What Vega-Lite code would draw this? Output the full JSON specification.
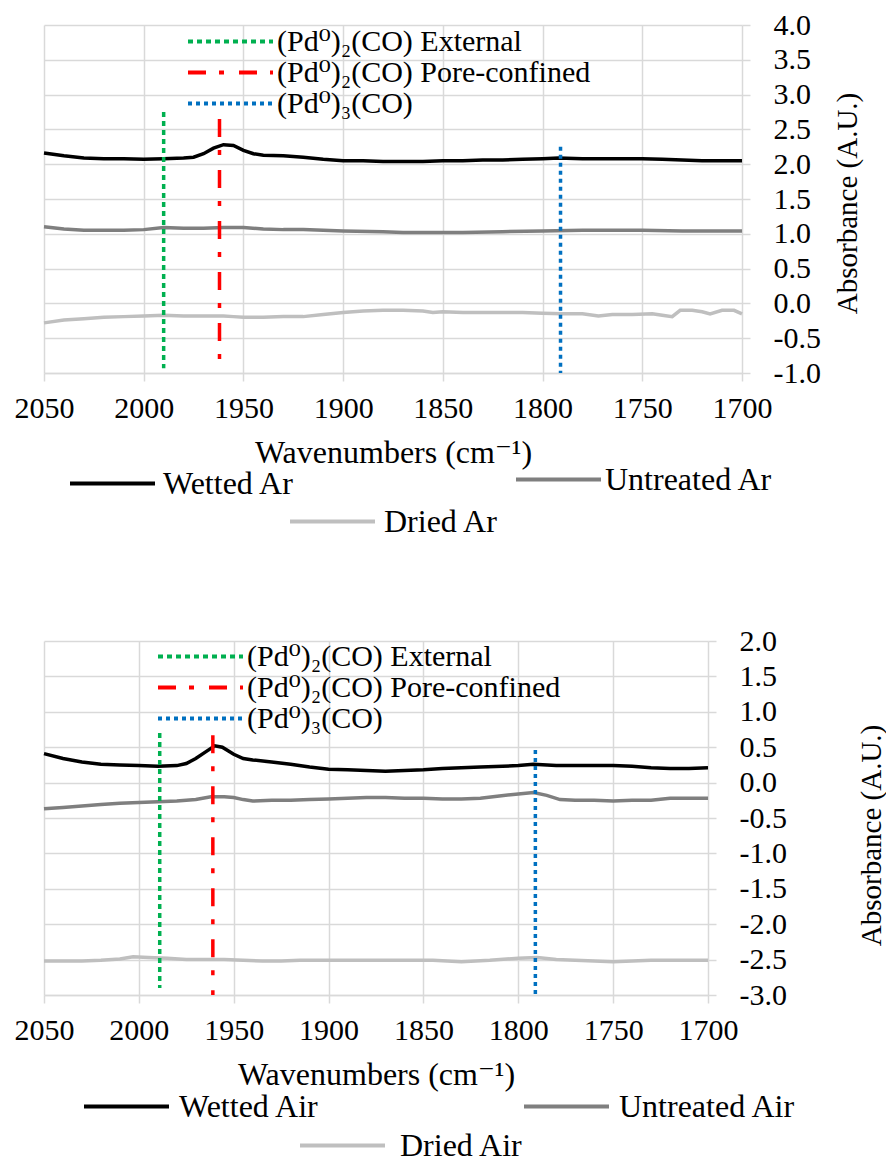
{
  "$schema": "https://vega.github.io/schema/vega-lite/v6.json",
  "background": "white",
  "padding": {"left": 14, "top": 10, "right": 5, "bottom": 0},
  "spacing": 88,
  "config": {
    "font": "Liberation Serif, Times New Roman, DejaVu Serif, serif",
    "view": {"stroke": null},
    "axis": {
      "gridColor": "#d9d9d9", "gridWidth": 1.5,
      "domainColor": "#d9d9d9", "domainWidth": 1.5,
      "tickColor": "#d9d9d9", "tickWidth": 1.5, "tickSize": 8,
      "labelFont": "Liberation Serif, Times New Roman, DejaVu Serif, serif", "labelFontSize": 30, "labelColor": "#000000", "labelFlush": false,
      "titleFont": "Liberation Serif, Times New Roman, DejaVu Serif, serif", "titleFontSize": 32, "titleFontWeight": "normal", "titleColor": "#000000"
    },
    "legend": {
      "labelFont": "Liberation Serif, Times New Roman, DejaVu Serif, serif", "labelFontSize": 32, "labelColor": "#000000", "labelLimit": 0,
      "symbolType": "stroke", "symbolSize": 7225, "symbolStrokeWidth": 4,
      "labelOffset": 4, "rowPadding": 0, "clipHeight": 29, "title": null
    }
  },
  "datasets": {
    "ar": [
      {"series": "Wetted Ar", "wn": 2050, "abs": 2.16}, {"series": "Wetted Ar", "wn": 2040, "abs": 2.12}, {"series": "Wetted Ar", "wn": 2030, "abs": 2.09}, {"series": "Wetted Ar", "wn": 2020, "abs": 2.08}, {"series": "Wetted Ar", "wn": 2010, "abs": 2.08}, {"series": "Wetted Ar", "wn": 2000, "abs": 2.07}, {"series": "Wetted Ar", "wn": 1990, "abs": 2.08}, {"series": "Wetted Ar", "wn": 1980, "abs": 2.09}, {"series": "Wetted Ar", "wn": 1975, "abs": 2.1}, {"series": "Wetted Ar", "wn": 1970, "abs": 2.15}, {"series": "Wetted Ar", "wn": 1965, "abs": 2.23}, {"series": "Wetted Ar", "wn": 1960, "abs": 2.28}, {"series": "Wetted Ar", "wn": 1955, "abs": 2.27}, {"series": "Wetted Ar", "wn": 1950, "abs": 2.2}, {"series": "Wetted Ar", "wn": 1945, "abs": 2.15}, {"series": "Wetted Ar", "wn": 1940, "abs": 2.13}, {"series": "Wetted Ar", "wn": 1930, "abs": 2.12}, {"series": "Wetted Ar", "wn": 1920, "abs": 2.1}, {"series": "Wetted Ar", "wn": 1910, "abs": 2.07}, {"series": "Wetted Ar", "wn": 1900, "abs": 2.05}, {"series": "Wetted Ar", "wn": 1890, "abs": 2.05}, {"series": "Wetted Ar", "wn": 1880, "abs": 2.04}, {"series": "Wetted Ar", "wn": 1870, "abs": 2.04}, {"series": "Wetted Ar", "wn": 1860, "abs": 2.04}, {"series": "Wetted Ar", "wn": 1850, "abs": 2.05}, {"series": "Wetted Ar", "wn": 1840, "abs": 2.05}, {"series": "Wetted Ar", "wn": 1830, "abs": 2.06}, {"series": "Wetted Ar", "wn": 1820, "abs": 2.06}, {"series": "Wetted Ar", "wn": 1810, "abs": 2.07}, {"series": "Wetted Ar", "wn": 1800, "abs": 2.08}, {"series": "Wetted Ar", "wn": 1792, "abs": 2.09}, {"series": "Wetted Ar", "wn": 1780, "abs": 2.08}, {"series": "Wetted Ar", "wn": 1770, "abs": 2.08}, {"series": "Wetted Ar", "wn": 1760, "abs": 2.08}, {"series": "Wetted Ar", "wn": 1750, "abs": 2.08}, {"series": "Wetted Ar", "wn": 1740, "abs": 2.07}, {"series": "Wetted Ar", "wn": 1730, "abs": 2.06}, {"series": "Wetted Ar", "wn": 1720, "abs": 2.05}, {"series": "Wetted Ar", "wn": 1710, "abs": 2.05}, {"series": "Wetted Ar", "wn": 1700, "abs": 2.05},
      {"series": "Untreated Ar", "wn": 2050, "abs": 1.1}, {"series": "Untreated Ar", "wn": 2040, "abs": 1.07}, {"series": "Untreated Ar", "wn": 2030, "abs": 1.05}, {"series": "Untreated Ar", "wn": 2020, "abs": 1.05}, {"series": "Untreated Ar", "wn": 2010, "abs": 1.05}, {"series": "Untreated Ar", "wn": 2000, "abs": 1.06}, {"series": "Untreated Ar", "wn": 1990, "abs": 1.09}, {"series": "Untreated Ar", "wn": 1980, "abs": 1.08}, {"series": "Untreated Ar", "wn": 1970, "abs": 1.08}, {"series": "Untreated Ar", "wn": 1960, "abs": 1.09}, {"series": "Untreated Ar", "wn": 1950, "abs": 1.09}, {"series": "Untreated Ar", "wn": 1940, "abs": 1.07}, {"series": "Untreated Ar", "wn": 1930, "abs": 1.06}, {"series": "Untreated Ar", "wn": 1920, "abs": 1.06}, {"series": "Untreated Ar", "wn": 1910, "abs": 1.05}, {"series": "Untreated Ar", "wn": 1900, "abs": 1.04}, {"series": "Untreated Ar", "wn": 1880, "abs": 1.03}, {"series": "Untreated Ar", "wn": 1870, "abs": 1.02}, {"series": "Untreated Ar", "wn": 1860, "abs": 1.02}, {"series": "Untreated Ar", "wn": 1850, "abs": 1.02}, {"series": "Untreated Ar", "wn": 1840, "abs": 1.02}, {"series": "Untreated Ar", "wn": 1820, "abs": 1.03}, {"series": "Untreated Ar", "wn": 1800, "abs": 1.04}, {"series": "Untreated Ar", "wn": 1780, "abs": 1.05}, {"series": "Untreated Ar", "wn": 1760, "abs": 1.05}, {"series": "Untreated Ar", "wn": 1750, "abs": 1.05}, {"series": "Untreated Ar", "wn": 1730, "abs": 1.04}, {"series": "Untreated Ar", "wn": 1710, "abs": 1.04}, {"series": "Untreated Ar", "wn": 1700, "abs": 1.04},
      {"series": "Dried Ar", "wn": 2050, "abs": -0.28}, {"series": "Dried Ar", "wn": 2040, "abs": -0.24}, {"series": "Dried Ar", "wn": 2030, "abs": -0.22}, {"series": "Dried Ar", "wn": 2020, "abs": -0.2}, {"series": "Dried Ar", "wn": 2010, "abs": -0.19}, {"series": "Dried Ar", "wn": 2000, "abs": -0.18}, {"series": "Dried Ar", "wn": 1990, "abs": -0.17}, {"series": "Dried Ar", "wn": 1980, "abs": -0.18}, {"series": "Dried Ar", "wn": 1970, "abs": -0.18}, {"series": "Dried Ar", "wn": 1960, "abs": -0.18}, {"series": "Dried Ar", "wn": 1955, "abs": -0.19}, {"series": "Dried Ar", "wn": 1950, "abs": -0.2}, {"series": "Dried Ar", "wn": 1940, "abs": -0.2}, {"series": "Dried Ar", "wn": 1930, "abs": -0.19}, {"series": "Dried Ar", "wn": 1920, "abs": -0.19}, {"series": "Dried Ar", "wn": 1910, "abs": -0.16}, {"series": "Dried Ar", "wn": 1900, "abs": -0.13}, {"series": "Dried Ar", "wn": 1890, "abs": -0.11}, {"series": "Dried Ar", "wn": 1880, "abs": -0.1}, {"series": "Dried Ar", "wn": 1870, "abs": -0.1}, {"series": "Dried Ar", "wn": 1860, "abs": -0.11}, {"series": "Dried Ar", "wn": 1855, "abs": -0.13}, {"series": "Dried Ar", "wn": 1850, "abs": -0.12}, {"series": "Dried Ar", "wn": 1840, "abs": -0.13}, {"series": "Dried Ar", "wn": 1830, "abs": -0.13}, {"series": "Dried Ar", "wn": 1820, "abs": -0.13}, {"series": "Dried Ar", "wn": 1810, "abs": -0.13}, {"series": "Dried Ar", "wn": 1800, "abs": -0.14}, {"series": "Dried Ar", "wn": 1790, "abs": -0.15}, {"series": "Dried Ar", "wn": 1780, "abs": -0.15}, {"series": "Dried Ar", "wn": 1772, "abs": -0.18}, {"series": "Dried Ar", "wn": 1765, "abs": -0.16}, {"series": "Dried Ar", "wn": 1755, "abs": -0.16}, {"series": "Dried Ar", "wn": 1745, "abs": -0.15}, {"series": "Dried Ar", "wn": 1740, "abs": -0.17}, {"series": "Dried Ar", "wn": 1735, "abs": -0.19}, {"series": "Dried Ar", "wn": 1731, "abs": -0.1}, {"series": "Dried Ar", "wn": 1725, "abs": -0.1}, {"series": "Dried Ar", "wn": 1720, "abs": -0.12}, {"series": "Dried Ar", "wn": 1716, "abs": -0.15}, {"series": "Dried Ar", "wn": 1710, "abs": -0.1}, {"series": "Dried Ar", "wn": 1704, "abs": -0.1}, {"series": "Dried Ar", "wn": 1700, "abs": -0.15}
    ],
    "arRef": [
      {"ref": "(Pd⁰)₂(CO) External", "wn": 1990, "top": 2.75, "bottom": -0.93},
      {"ref": "(Pd⁰)₂(CO) Pore-confined", "wn": 1962, "top": 2.65, "bottom": -0.8},
      {"ref": "(Pd⁰)₃(CO)", "wn": 1791, "top": 2.25, "bottom": -1.0}
    ],
    "air": [
      {"series": "Wetted Air", "wn": 2050, "abs": 0.41}, {"series": "Wetted Air", "wn": 2040, "abs": 0.34}, {"series": "Wetted Air", "wn": 2030, "abs": 0.29}, {"series": "Wetted Air", "wn": 2020, "abs": 0.26}, {"series": "Wetted Air", "wn": 2010, "abs": 0.25}, {"series": "Wetted Air", "wn": 2000, "abs": 0.24}, {"series": "Wetted Air", "wn": 1990, "abs": 0.23}, {"series": "Wetted Air", "wn": 1980, "abs": 0.24}, {"series": "Wetted Air", "wn": 1975, "abs": 0.27}, {"series": "Wetted Air", "wn": 1970, "abs": 0.34}, {"series": "Wetted Air", "wn": 1965, "abs": 0.43}, {"series": "Wetted Air", "wn": 1960, "abs": 0.52}, {"series": "Wetted Air", "wn": 1956, "abs": 0.5}, {"series": "Wetted Air", "wn": 1950, "abs": 0.4}, {"series": "Wetted Air", "wn": 1945, "abs": 0.34}, {"series": "Wetted Air", "wn": 1940, "abs": 0.32}, {"series": "Wetted Air", "wn": 1930, "abs": 0.29}, {"series": "Wetted Air", "wn": 1920, "abs": 0.26}, {"series": "Wetted Air", "wn": 1910, "abs": 0.22}, {"series": "Wetted Air", "wn": 1900, "abs": 0.19}, {"series": "Wetted Air", "wn": 1890, "abs": 0.18}, {"series": "Wetted Air", "wn": 1880, "abs": 0.17}, {"series": "Wetted Air", "wn": 1870, "abs": 0.16}, {"series": "Wetted Air", "wn": 1860, "abs": 0.17}, {"series": "Wetted Air", "wn": 1850, "abs": 0.18}, {"series": "Wetted Air", "wn": 1840, "abs": 0.2}, {"series": "Wetted Air", "wn": 1820, "abs": 0.22}, {"series": "Wetted Air", "wn": 1800, "abs": 0.24}, {"series": "Wetted Air", "wn": 1792, "abs": 0.26}, {"series": "Wetted Air", "wn": 1780, "abs": 0.24}, {"series": "Wetted Air", "wn": 1760, "abs": 0.24}, {"series": "Wetted Air", "wn": 1750, "abs": 0.24}, {"series": "Wetted Air", "wn": 1740, "abs": 0.23}, {"series": "Wetted Air", "wn": 1730, "abs": 0.21}, {"series": "Wetted Air", "wn": 1720, "abs": 0.2}, {"series": "Wetted Air", "wn": 1710, "abs": 0.2}, {"series": "Wetted Air", "wn": 1700, "abs": 0.21},
      {"series": "Untreated Air", "wn": 2050, "abs": -0.37}, {"series": "Untreated Air", "wn": 2040, "abs": -0.35}, {"series": "Untreated Air", "wn": 2030, "abs": -0.33}, {"series": "Untreated Air", "wn": 2020, "abs": -0.31}, {"series": "Untreated Air", "wn": 2010, "abs": -0.29}, {"series": "Untreated Air", "wn": 2000, "abs": -0.28}, {"series": "Untreated Air", "wn": 1990, "abs": -0.27}, {"series": "Untreated Air", "wn": 1980, "abs": -0.26}, {"series": "Untreated Air", "wn": 1970, "abs": -0.24}, {"series": "Untreated Air", "wn": 1962, "abs": -0.2}, {"series": "Untreated Air", "wn": 1955, "abs": -0.2}, {"series": "Untreated Air", "wn": 1950, "abs": -0.21}, {"series": "Untreated Air", "wn": 1945, "abs": -0.24}, {"series": "Untreated Air", "wn": 1940, "abs": -0.26}, {"series": "Untreated Air", "wn": 1930, "abs": -0.25}, {"series": "Untreated Air", "wn": 1920, "abs": -0.25}, {"series": "Untreated Air", "wn": 1910, "abs": -0.24}, {"series": "Untreated Air", "wn": 1900, "abs": -0.23}, {"series": "Untreated Air", "wn": 1890, "abs": -0.22}, {"series": "Untreated Air", "wn": 1880, "abs": -0.21}, {"series": "Untreated Air", "wn": 1870, "abs": -0.21}, {"series": "Untreated Air", "wn": 1860, "abs": -0.22}, {"series": "Untreated Air", "wn": 1850, "abs": -0.22}, {"series": "Untreated Air", "wn": 1840, "abs": -0.23}, {"series": "Untreated Air", "wn": 1830, "abs": -0.23}, {"series": "Untreated Air", "wn": 1820, "abs": -0.22}, {"series": "Untreated Air", "wn": 1810, "abs": -0.19}, {"series": "Untreated Air", "wn": 1800, "abs": -0.16}, {"series": "Untreated Air", "wn": 1792, "abs": -0.14}, {"series": "Untreated Air", "wn": 1785, "abs": -0.18}, {"series": "Untreated Air", "wn": 1778, "abs": -0.24}, {"series": "Untreated Air", "wn": 1770, "abs": -0.25}, {"series": "Untreated Air", "wn": 1760, "abs": -0.25}, {"series": "Untreated Air", "wn": 1750, "abs": -0.26}, {"series": "Untreated Air", "wn": 1740, "abs": -0.25}, {"series": "Untreated Air", "wn": 1730, "abs": -0.25}, {"series": "Untreated Air", "wn": 1720, "abs": -0.22}, {"series": "Untreated Air", "wn": 1710, "abs": -0.22}, {"series": "Untreated Air", "wn": 1700, "abs": -0.22},
      {"series": "Dried Air", "wn": 2050, "abs": -2.52}, {"series": "Dried Air", "wn": 2040, "abs": -2.52}, {"series": "Dried Air", "wn": 2030, "abs": -2.52}, {"series": "Dried Air", "wn": 2020, "abs": -2.51}, {"series": "Dried Air", "wn": 2010, "abs": -2.49}, {"series": "Dried Air", "wn": 2003, "abs": -2.46}, {"series": "Dried Air", "wn": 1995, "abs": -2.47}, {"series": "Dried Air", "wn": 1985, "abs": -2.48}, {"series": "Dried Air", "wn": 1975, "abs": -2.5}, {"series": "Dried Air", "wn": 1965, "abs": -2.5}, {"series": "Dried Air", "wn": 1955, "abs": -2.5}, {"series": "Dried Air", "wn": 1945, "abs": -2.51}, {"series": "Dried Air", "wn": 1935, "abs": -2.52}, {"series": "Dried Air", "wn": 1925, "abs": -2.52}, {"series": "Dried Air", "wn": 1915, "abs": -2.51}, {"series": "Dried Air", "wn": 1900, "abs": -2.51}, {"series": "Dried Air", "wn": 1880, "abs": -2.51}, {"series": "Dried Air", "wn": 1860, "abs": -2.51}, {"series": "Dried Air", "wn": 1845, "abs": -2.51}, {"series": "Dried Air", "wn": 1830, "abs": -2.53}, {"series": "Dried Air", "wn": 1815, "abs": -2.51}, {"series": "Dried Air", "wn": 1800, "abs": -2.48}, {"series": "Dried Air", "wn": 1790, "abs": -2.47}, {"series": "Dried Air", "wn": 1780, "abs": -2.5}, {"series": "Dried Air", "wn": 1770, "abs": -2.51}, {"series": "Dried Air", "wn": 1760, "abs": -2.52}, {"series": "Dried Air", "wn": 1750, "abs": -2.53}, {"series": "Dried Air", "wn": 1740, "abs": -2.52}, {"series": "Dried Air", "wn": 1730, "abs": -2.51}, {"series": "Dried Air", "wn": 1720, "abs": -2.51}, {"series": "Dried Air", "wn": 1710, "abs": -2.51}, {"series": "Dried Air", "wn": 1700, "abs": -2.51}
    ],
    "airRef": [
      {"ref": "(Pd⁰)₂(CO) External", "wn": 1989, "top": 0.7, "bottom": -2.9},
      {"ref": "(Pd⁰)₂(CO) Pore-confined", "wn": 1961, "top": 0.67, "bottom": -3.0},
      {"ref": "(Pd⁰)₃(CO)", "wn": 1791, "top": 0.46, "bottom": -3.0}
    ]
  },
  "vconcat": [
    {
      "width": 698, "height": 348,
      "encoding": {
        "x": {"field": "wn", "type": "quantitative", "title": "Wavenumbers (cm⁻¹)",
          "scale": {"domain": [1700, 2050], "reverse": true, "nice": false, "zero": false},
          "axis": {"values": [2050, 2000, 1950, 1900, 1850, 1800, 1750, 1700], "format": "d", "labelPadding": 12, "titlePadding": 14}},
        "y": {"field": "abs", "type": "quantitative", "title": "Absorbance (A.U.)",
          "scale": {"domain": [-1, 4], "nice": false, "zero": false},
          "axis": {"orient": "right", "values": [-1, -0.5, 0, 0.5, 1, 1.5, 2, 2.5, 3, 3.5, 4], "labelExpr": "replace(format(datum.value, '.1f'), '−', '-')", "labelPadding": 23, "titleAngle": 270, "titlePadding": 42, "titleFontSize": 29, "titleY": 178, "domain": false}}
      },
      "layer": [
        {"data": {"name": "ar"}, "transform": [{"filter": "datum.series === 'Untreated Ar'"}],
          "mark": {"type": "line", "strokeWidth": 3.5},
          "encoding": {"stroke": {"field": "series", "type": "nominal", "scale": {"range": ["#7f7f7f"]},
            "legend": {"orient": "none", "legendX": 470, "legendY": 440, "labelOffset": 2}}}},
        {"data": {"name": "ar"}, "transform": [{"filter": "datum.series === 'Dried Ar'"}],
          "mark": {"type": "line", "strokeWidth": 3.5},
          "encoding": {"stroke": {"field": "series", "type": "nominal", "scale": {"range": ["#bfbfbf"]},
            "legend": {"orient": "none", "legendX": 244, "legendY": 482, "labelOffset": 7}}}},
        {"data": {"name": "ar"}, "transform": [{"filter": "datum.series === 'Wetted Ar'"}],
          "mark": {"type": "line", "strokeWidth": 3.5},
          "encoding": {"stroke": {"field": "series", "type": "nominal", "scale": {"range": ["#000000"]},
            "legend": {"orient": "none", "legendX": 24, "legendY": 444, "labelOffset": 6}}}},
        {"data": {"name": "arRef"},
          "mark": {"type": "rule", "strokeWidth": 3.5},
          "encoding": {
            "y": {"field": "top", "type": "quantitative"},
            "y2": {"field": "bottom"},
            "color": {"field": "ref", "type": "nominal",
              "scale": {"domain": ["(Pd⁰)₂(CO) External", "(Pd⁰)₂(CO) Pore-confined", "(Pd⁰)₃(CO)"], "range": ["#00b050", "#ff0000", "#0070c0"]},
              "legend": {"orient": "none", "legendX": 142, "legendY": 2, "labelOffset": 2, "labelFontSize": 30}},
            "strokeDash": {"field": "ref", "type": "nominal",
              "scale": {"domain": ["(Pd⁰)₂(CO) External", "(Pd⁰)₂(CO) Pore-confined", "(Pd⁰)₃(CO)"], "range": [[5, 4], [18, 13, 5, 15], [4, 4]]},
              "legend": {"orient": "none", "legendX": 142, "legendY": 2, "labelOffset": 2, "labelFontSize": 30}}
          }}
      ],
      "resolve": {"scale": {"stroke": "independent"}}
    },
    {
      "width": 664, "height": 354,
      "encoding": {
        "x": {"field": "wn", "type": "quantitative", "title": "Wavenumbers (cm⁻¹)",
          "scale": {"domain": [1700, 2050], "reverse": true, "nice": false, "zero": false},
          "axis": {"values": [2050, 2000, 1950, 1900, 1850, 1800, 1750, 1700], "format": "d", "labelPadding": 12, "titlePadding": 14}},
        "y": {"field": "abs", "type": "quantitative", "title": "Absorbance (A.U.)",
          "scale": {"domain": [-3, 2], "nice": false, "zero": false},
          "axis": {"orient": "right", "values": [-3, -2.5, -2, -1.5, -1, -0.5, 0, 0.5, 1, 1.5, 2], "labelExpr": "replace(format(datum.value, '.1f'), '−', '-')", "labelPadding": 23, "titleAngle": 270, "titlePadding": 100, "titleFontSize": 29, "titleY": 194, "domain": false}}
      },
      "layer": [
        {"data": {"name": "air"}, "transform": [{"filter": "datum.series === 'Untreated Air'"}],
          "mark": {"type": "line", "strokeWidth": 3.5},
          "encoding": {"stroke": {"field": "series", "type": "nominal", "scale": {"range": ["#7f7f7f"]},
            "legend": {"orient": "none", "legendX": 478, "legendY": 451, "labelOffset": 8}}}},
        {"data": {"name": "air"}, "transform": [{"filter": "datum.series === 'Dried Air'"}],
          "mark": {"type": "line", "strokeWidth": 3.5},
          "encoding": {"stroke": {"field": "series", "type": "nominal", "scale": {"range": ["#bfbfbf"]},
            "legend": {"orient": "none", "legendX": 254, "legendY": 490, "labelOffset": 13}}}},
        {"data": {"name": "air"}, "transform": [{"filter": "datum.series === 'Wetted Air'"}],
          "mark": {"type": "line", "strokeWidth": 3.5},
          "encoding": {"stroke": {"field": "series", "type": "nominal", "scale": {"range": ["#000000"]},
            "legend": {"orient": "none", "legendX": 38, "legendY": 451, "labelOffset": 8}}}},
        {"data": {"name": "airRef"},
          "mark": {"type": "rule", "strokeWidth": 3.5},
          "encoding": {
            "y": {"field": "top", "type": "quantitative"},
            "y2": {"field": "bottom"},
            "color": {"field": "ref", "type": "nominal",
              "scale": {"domain": ["(Pd⁰)₂(CO) External", "(Pd⁰)₂(CO) Pore-confined", "(Pd⁰)₃(CO)"], "range": ["#00b050", "#ff0000", "#0070c0"]},
              "legend": {"orient": "none", "legendX": 112, "legendY": 1, "labelOffset": 2, "labelFontSize": 30}},
            "strokeDash": {"field": "ref", "type": "nominal",
              "scale": {"domain": ["(Pd⁰)₂(CO) External", "(Pd⁰)₂(CO) Pore-confined", "(Pd⁰)₃(CO)"], "range": [[5, 4], [18, 13, 5, 15], [4, 4]]},
              "legend": {"orient": "none", "legendX": 112, "legendY": 1, "labelOffset": 2, "labelFontSize": 30}}
          }}
      ],
      "resolve": {"scale": {"stroke": "independent"}}
    }
  ],
  "resolve": {"scale": {"color": "independent", "strokeDash": "independent", "x": "independent", "y": "independent"}}
}
